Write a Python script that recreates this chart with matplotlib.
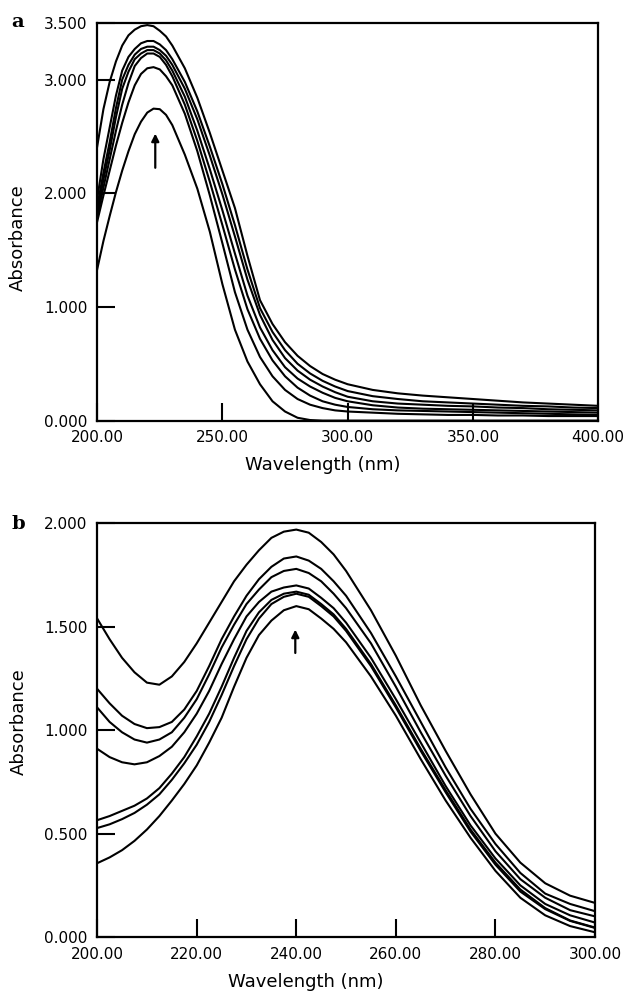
import matplotlib.pyplot as plt

# ---- panel a data (wavelength nm, absorbance) ----
wl_a = [200, 202.5, 205, 207.5, 210, 212.5, 215, 217.5, 220, 222.5, 225, 227.5, 230,
        235, 240, 245, 250, 255, 260, 265, 270, 275, 280, 285, 290, 295, 300,
        310, 320, 330, 340, 350, 360, 370, 380, 390, 400]

a1 = [2.41, 2.74, 2.98, 3.16, 3.30, 3.39, 3.44, 3.47, 3.48, 3.47, 3.43, 3.38, 3.30,
      3.10, 2.84, 2.53, 2.20, 1.87, 1.45, 1.06, 0.85, 0.69, 0.57, 0.48, 0.41, 0.36, 0.32,
      0.27, 0.24, 0.22, 0.205, 0.19, 0.175, 0.16, 0.15, 0.14, 0.13]
a2 = [1.95, 2.30, 2.58, 2.86, 3.08, 3.20, 3.27, 3.32, 3.34, 3.34, 3.31, 3.26, 3.18,
      2.98, 2.72, 2.41, 2.08, 1.72, 1.33, 0.99, 0.78, 0.62, 0.50, 0.415, 0.35, 0.30, 0.26,
      0.215, 0.19, 0.17, 0.16, 0.15, 0.14, 0.13, 0.125, 0.115, 0.11]
a3 = [1.88, 2.18, 2.45, 2.75, 3.00, 3.13, 3.22, 3.27, 3.29, 3.29, 3.26, 3.21, 3.13,
      2.92, 2.65, 2.33, 1.99, 1.62, 1.24, 0.93, 0.71, 0.55, 0.44, 0.36, 0.30, 0.25, 0.21,
      0.17, 0.15, 0.14, 0.13, 0.125, 0.115, 0.11, 0.10, 0.095, 0.09]
a4 = [1.83, 2.12, 2.38, 2.67, 2.92, 3.07, 3.18, 3.23, 3.26, 3.26, 3.23, 3.17, 3.08,
      2.85, 2.55, 2.21, 1.85, 1.47, 1.10, 0.82, 0.62, 0.47, 0.37, 0.30, 0.245, 0.20, 0.17,
      0.135, 0.115, 0.105, 0.10, 0.095, 0.09, 0.085, 0.08, 0.075, 0.07]
a5 = [1.79, 2.05, 2.30, 2.55, 2.78, 2.97, 3.12, 3.19, 3.23, 3.23, 3.20, 3.13, 3.03,
      2.78, 2.46, 2.10, 1.72, 1.33, 0.98, 0.72, 0.53, 0.39, 0.29, 0.22, 0.17, 0.14, 0.12,
      0.10, 0.09, 0.085, 0.08, 0.075, 0.07, 0.065, 0.06, 0.055, 0.05]
a6 = [1.75, 1.98, 2.20, 2.42, 2.62, 2.80, 2.95, 3.05, 3.10, 3.11, 3.09, 3.03, 2.95,
      2.70, 2.37, 1.98, 1.56, 1.13, 0.80, 0.56, 0.39, 0.27, 0.19, 0.14, 0.11, 0.09, 0.08,
      0.07, 0.06, 0.055, 0.05, 0.05, 0.045, 0.045, 0.04, 0.04, 0.04]
a7 = [1.33, 1.58, 1.80, 2.01, 2.20, 2.37, 2.52, 2.63, 2.71, 2.745, 2.74, 2.69, 2.60,
      2.34, 2.04, 1.66, 1.20, 0.80, 0.52, 0.32, 0.17, 0.08, 0.025, 0.005, 0.0, 0.0, 0.0,
      0.0, 0.0, 0.0, 0.0, 0.0, 0.0, 0.0, 0.0, 0.0, 0.0]

# ---- panel b data ----
wl_b = [200, 202.5, 205, 207.5, 210, 212.5, 215, 217.5, 220, 222.5, 225, 227.5, 230,
        232.5, 235, 237.5, 240, 242.5, 245, 247.5, 250,
        255, 260, 265, 270, 275, 280, 285, 290, 295, 300]

b1 = [1.54, 1.44, 1.35, 1.28, 1.23, 1.22, 1.26, 1.33, 1.42, 1.52, 1.62, 1.72, 1.80,
      1.87, 1.93, 1.96, 1.97, 1.955, 1.91, 1.85, 1.77,
      1.58, 1.36, 1.12, 0.90, 0.69, 0.50, 0.36, 0.26, 0.20, 0.165]
b2 = [1.20, 1.13, 1.07, 1.03, 1.01, 1.015, 1.04, 1.10, 1.19, 1.31, 1.44, 1.55, 1.65,
      1.73, 1.79, 1.83, 1.84, 1.82, 1.78, 1.72, 1.65,
      1.47, 1.26, 1.04, 0.82, 0.62, 0.45, 0.31, 0.21, 0.16, 0.125]
b3 = [1.11, 1.04, 0.99, 0.955, 0.94, 0.955, 0.99, 1.06, 1.15, 1.27, 1.40, 1.51, 1.61,
      1.68, 1.74, 1.77, 1.78, 1.76, 1.72, 1.66, 1.59,
      1.42, 1.21, 0.99, 0.78, 0.585, 0.415, 0.28, 0.19, 0.13, 0.10]
b4 = [0.91, 0.87, 0.845, 0.835, 0.845, 0.875, 0.92, 0.99, 1.08, 1.19, 1.32, 1.44, 1.55,
      1.62, 1.67, 1.69, 1.70, 1.685, 1.64, 1.59, 1.52,
      1.35, 1.15, 0.94, 0.73, 0.54, 0.38, 0.25, 0.16, 0.105, 0.07]
b5 = [0.565, 0.585, 0.61, 0.635, 0.67, 0.72, 0.79, 0.87, 0.97, 1.08, 1.21, 1.35, 1.48,
      1.57, 1.63, 1.66, 1.67, 1.655, 1.61, 1.56, 1.49,
      1.32, 1.12, 0.91, 0.71, 0.52, 0.36, 0.23, 0.14, 0.08, 0.046]
b6 = [0.527, 0.545, 0.57, 0.60, 0.64, 0.69, 0.76, 0.84, 0.93, 1.04, 1.17, 1.31, 1.44,
      1.54, 1.61, 1.645, 1.66, 1.645, 1.60, 1.55, 1.48,
      1.31, 1.11, 0.90, 0.70, 0.51, 0.35, 0.22, 0.135, 0.078, 0.044]
b7 = [0.357, 0.385, 0.42, 0.465, 0.52, 0.585, 0.66, 0.74, 0.83, 0.94, 1.06, 1.21, 1.35,
      1.46, 1.53, 1.58, 1.60, 1.585, 1.54, 1.49, 1.425,
      1.26, 1.07, 0.86, 0.66, 0.48, 0.32, 0.19, 0.105, 0.053, 0.023]

yticks_a = [0.0, 1.0, 2.0, 3.0, 3.5]
xticks_a = [200, 250, 300, 350, 400]
yticks_b = [0.0, 0.5, 1.0, 1.5, 2.0]
xticks_b = [200, 220, 240, 260, 280, 300]

plt.rcParams['font.family'] = ['DejaVu Sans']

fig = plt.figure(figsize=(6.35, 9.92), dpi=100)
ax_a = fig.add_axes([0.153, 0.576, 0.789, 0.401])
ax_b = fig.add_axes([0.153, 0.0554, 0.784, 0.417])


def style_axes(ax, xticks, yticks, xlim, ylim):
    ax.set_xlim(*xlim)
    ax.set_ylim(*ylim)
    ax.set_xticks(xticks)
    ax.set_yticks(yticks)
    ax.set_xticklabels(['%.2f' % t for t in xticks])
    ax.set_yticklabels(['%.3f' % t for t in yticks])
    ax.tick_params(direction='in', length=13, width=1.5, labelsize=11, pad=7,
                   top=False, right=False)
    for s in ax.spines.values():
        s.set_linewidth(1.6)
    ax.set_ylabel('Absorbance', fontsize=13)


for ys in [a1, a2, a3, a4, a5, a6, a7]:
    ax_a.plot(wl_a, ys, color='black', lw=1.5, solid_joinstyle='round')
style_axes(ax_a, xticks_a, yticks_a, (200, 400), (0, 3.5))
ax_a.set_xlabel('Wavelength (nm)', fontsize=13)
ax_a.xaxis.set_label_coords(0.45, -0.09)
ax_a.yaxis.set_label_coords(-0.14, 0.46)
ax_a.annotate('', xy=(223.2, 2.55), xytext=(223.2, 2.2),
              arrowprops=dict(arrowstyle='-|>', lw=1.6, color='black', mutation_scale=11))

for ys in [b1, b2, b3, b4, b5, b6, b7]:
    ax_b.plot(wl_b, ys, color='black', lw=1.5, solid_joinstyle='round')
style_axes(ax_b, xticks_b, yticks_b, (200, 300), (0, 2.0))
ax_b.set_xlabel('Wavelength (nm)', fontsize=13)
ax_b.xaxis.set_label_coords(0.42, -0.088)
ax_b.yaxis.set_label_coords(-0.14, 0.52)
ax_b.annotate('', xy=(239.8, 1.50), xytext=(239.8, 1.36),
              arrowprops=dict(arrowstyle='-|>', lw=1.6, color='black', mutation_scale=11))

fig.text(0.018, 0.978, 'a', fontsize=14, fontweight='bold', family='DejaVu Serif',
         va='center', ha='left')
fig.text(0.018, 0.472, 'b', fontsize=14, fontweight='bold', family='DejaVu Serif',
         va='center', ha='left')

fig.savefig('out.png', dpi=100, facecolor='white')
